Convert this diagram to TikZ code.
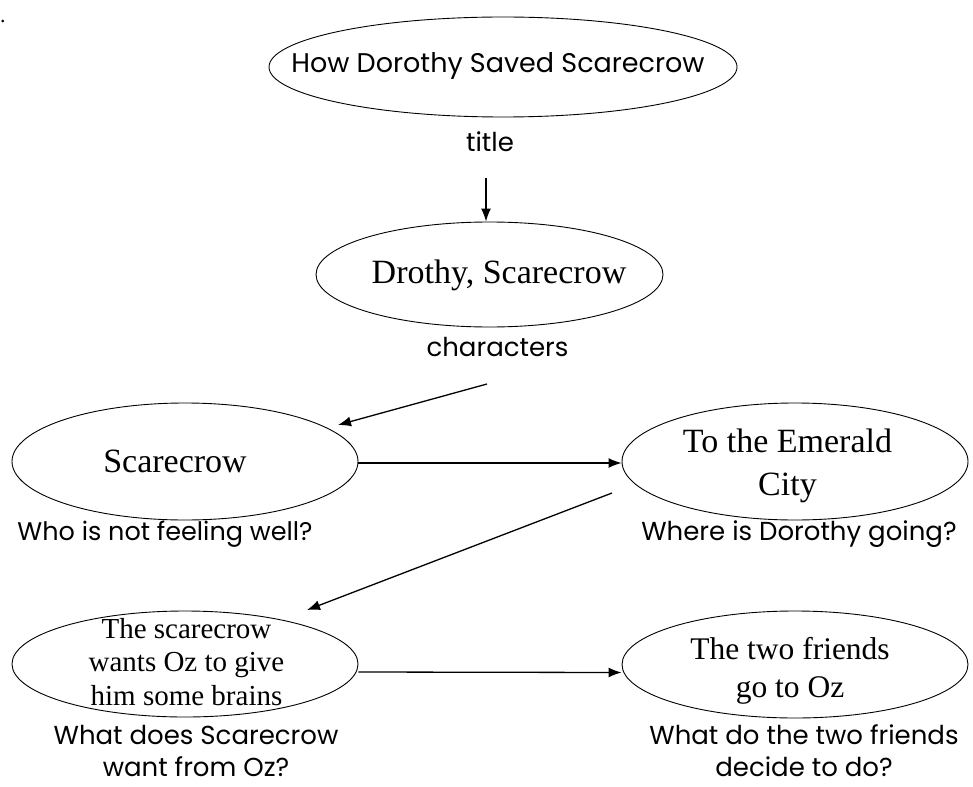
\documentclass[tikz,border=0pt]{standalone}
\usepackage{fontspec}
\setmainfont{Liberation Serif}
\newfontfamily\gothic{Poppins}
\usetikzlibrary{shapes.geometric,arrows.meta}
\begin{document}
\begin{tikzpicture}[x=1pt,y=-1pt,
  oval/.style={draw, ellipse, line width=0.9pt, inner sep=0pt},
  ovaltext/.style={anchor=base, inner sep=0pt, align=center},
  qlabel/.style={font=\gothic\fontsize{26}{34}\selectfont, anchor=base, inner sep=0pt, align=center, text depth=0pt},
  link/.style={line width=1.3pt, -{Latex[length=13pt,width=10pt]}}]
\useasboundingbox (0,0) rectangle (973,786);
% period at top left
\node[anchor=base west, inner sep=0pt, font=\fontsize{22}{22}\selectfont] (dot) at (0,23) {.};
% ellipses
\node[oval, minimum width=468pt, minimum height=100pt] (e1) at (503,67) {};
\node[oval, minimum width=347pt, minimum height=105pt] (e2) at (489.5,274.5) {};
\node[oval, minimum width=346pt, minimum height=117pt] (e3) at (185,461.5) {};
\node[oval, minimum width=346pt, minimum height=117pt] (e4) at (795,461.5) {};
\node[oval, minimum width=346pt, minimum height=106pt] (e5) at (185,664) {};
\node[oval, minimum width=346pt, minimum height=107pt] (e6) at (795,664.5) {};
% ellipse texts (base anchor = baseline of the last line)
\node[ovaltext, font=\gothic\fontsize{27}{34}\selectfont] (t1) at (498,73) {How Dorothy Saved Scarecrow};
\node[ovaltext, font=\fontsize{34}{43}\selectfont] (t2) at (499,283) {Drothy, Scarecrow};
\node[ovaltext, font=\fontsize{34}{43}\selectfont] (t3) at (175,472) {Scarecrow};
\node[ovaltext, font=\fontsize{34}{43}\selectfont] (t4) at (787.5,495.5) {To the Emerald\\City};
\node[ovaltext, font=\fontsize{29}{33.5}\selectfont] (t5) at (186.5,705) {The scarecrow\\wants Oz to give\\him some brains};
\node[ovaltext, font=\fontsize{31.5}{38}\selectfont] (t6) at (790,697) {The two friends\\go to Oz};
% question labels
\node[qlabel] (l1) at (490,152) {title};
\node[qlabel] (l2) at (497.5,356) {characters};
\node[qlabel, font=\gothic\fontsize{25.5}{34}\selectfont] (l3) at (165,540) {Who is not feeling well?};
\node[qlabel] (l4) at (799,540) {Where is Dorothy going?};
\node[qlabel, font=\gothic\fontsize{26}{32}\selectfont] (l5) at (196,776) {What does Scarecrow\\want from Oz?};
\node[qlabel, font=\gothic\fontsize{26}{32}\selectfont] (l6) at (804,776) {What do the two friends\\decide to do?};
% connectors
\coordinate (a1s) at (486,178);
\coordinate (a2s) at (487,384);
\coordinate (a2e) at (338,425);
\coordinate (a3s) at (612,493);
\coordinate (a3e) at (307,610);
\draw[link] (a1s) -- (e2.north -| a1s);
\draw[link] (a2s) -- (a2e);
\draw[link] ([yshift=-1.5pt]e3.east) -- ([yshift=-1.5pt]e4.west);
\draw[link] (a3s) -- (a3e);
\draw[link] ([yshift=-8pt]e5.east) -- ([yshift=-8pt]e6.west);
\end{tikzpicture}
\end{document}
